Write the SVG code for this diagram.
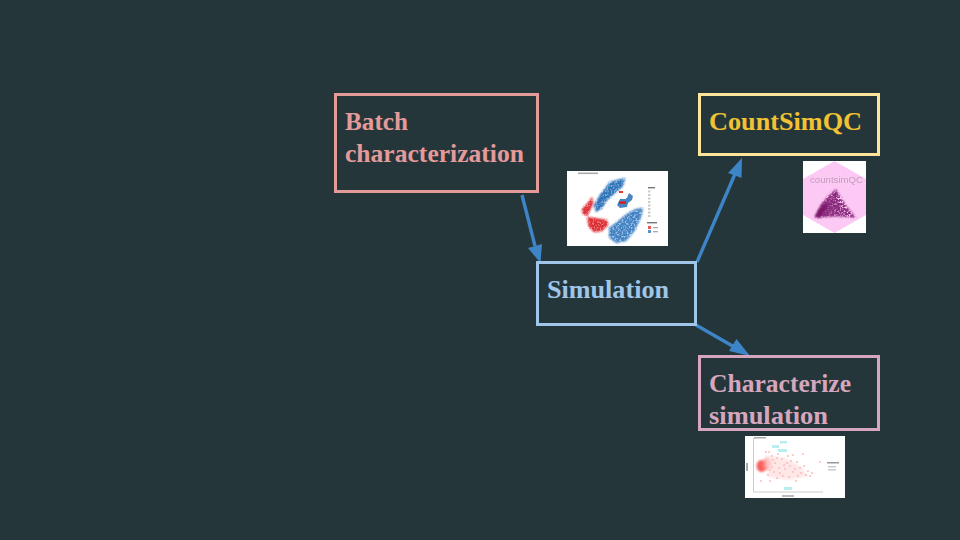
<svg xmlns="http://www.w3.org/2000/svg" width="960" height="540" viewBox="0 0 960 540">
<style>
.bg{fill:#25363b}
.box{fill:none;stroke-width:3}
.t{font-family:"Liberation Serif","Times New Roman",serif;font-weight:700;font-size:26px}
.conn{stroke:#3d85c6;stroke-width:3.4;fill:none}
.head{fill:#3d85c6}
.paper{fill:#fff}
</style>
<defs>
<filter id="speck" x="-15%" y="-15%" width="130%" height="130%">
<feGaussianBlur in="SourceGraphic" stdDeviation="1" result="s"/>
<feTurbulence type="fractalNoise" baseFrequency="0.55" numOctaves="2" seed="4" result="n"/>
<feColorMatrix in="n" type="matrix" values="0 0 0 0 0 0 0 0 0 0 0 0 0 0 0 0 0 0 5 -1.6" result="m"/>
<feComposite in="s" in2="m" operator="in"/>
<feGaussianBlur stdDeviation="0.75"/>
</filter>
<filter id="b1" x="-20%" y="-20%" width="140%" height="140%"><feGaussianBlur stdDeviation="1"/></filter>
<filter id="b2" x="-20%" y="-20%" width="140%" height="140%"><feGaussianBlur stdDeviation="0.5"/></filter>
<linearGradient id="mass" x1="0" y1="0" x2="1" y2="0"><stop offset="0" stop-color="#6f0e60"/><stop offset=".45" stop-color="#8a2a7c"/><stop offset="1" stop-color="#d88bd0"/></linearGradient>
</defs>
<rect class="bg" width="960" height="540"/>
<g id="connectors">
<line class="conn" x1="522" y1="195" x2="535" y2="246"/>
<polygon class="head" points="540.5,263 528,248 542,244"/>
<line class="conn" x1="697" y1="262" x2="735" y2="174"/>
<polygon class="head" points="742,158 741.5,178 728,173"/>
<line class="conn" x1="696" y1="325" x2="736" y2="348"/>
<polygon class="head" points="750,356 729,351 736.5,339"/>
</g>
<g id="batch">
<rect class="box" x="335.5" y="94.5" width="202" height="97" stroke="#e59a9a"/>
<text class="t" fill="#e59a9a" x="345" y="130" textLength="63" lengthAdjust="spacingAndGlyphs">Batch</text>
<text class="t" fill="#e59a9a" x="345" y="162" textLength="179" lengthAdjust="spacingAndGlyphs">characterization</text>
</g>
<g id="countsimqc">
<rect class="box" x="699.5" y="94.5" width="179" height="60" stroke="#ffe599"/>
<text class="t" fill="#f1c232" x="709" y="130" textLength="153" lengthAdjust="spacingAndGlyphs">CountSimQC</text>
</g>
<g id="simulation">
<rect class="box" x="537.5" y="262.5" width="158" height="62" stroke="#9fc5e8"/>
<text class="t" fill="#9fc5e8" x="547" y="298" textLength="122" lengthAdjust="spacingAndGlyphs">Simulation</text>
</g>
<g id="characterize">
<rect class="box" x="699.5" y="356.5" width="179" height="73" stroke="#d5a6bd"/>
<text class="t" fill="#d5a6bd" x="709" y="392" textLength="142" lengthAdjust="spacingAndGlyphs">Characterize</text>
<text class="t" fill="#d5a6bd" x="709" y="424" textLength="119" lengthAdjust="spacingAndGlyphs">simulation</text>
</g>
<g id="thumb-tsne">
<rect class="paper" x="567" y="171" width="101" height="75"/>
<g filter="url(#b1)" opacity=".75">
<path d="M610 182 L625 178 L623 186 L607 200 L602 208 L596 212 L594 205 L600 195Z" fill="#4d8ac8"/>
<path d="M643 208 L641 217 L635 230 L626 241 L616 243 L609 237 L609 228 L617 222 L628 213 L636 209Z" fill="#76a6d8"/>
<path d="M592 197 L593 204 L587 216 L583 214 L582 209 L588 203Z" fill="#e5383c"/>
<path d="M587 217 L594 218 L607 220 L608 225 L602 231 L594 232 L589 227Z" fill="#e5484c"/>
</g>
<g filter="url(#speck)" opacity=".8">
<path d="M610 182 L625 178 L623 186 L607 200 L602 208 L596 212 L594 205 L600 195Z" fill="#1f66b0"/>
<path d="M643 208 L641 217 L635 230 L626 241 L616 243 L609 237 L609 228 L617 222 L628 213 L636 209Z" fill="#2f74bb"/>
<path d="M592 197 L593 204 L587 216 L583 214 L582 209 L588 203Z" fill="#d81a20"/>
<path d="M587 217 L594 218 L607 220 L608 225 L602 231 L594 232 L589 227Z" fill="#d81a20"/>
</g>
<g filter="url(#b2)">
<path d="M629 193 L633 196 L632 200 L628 203 L627 207 L620 208 L617 205 L620 199 L627 198Z" fill="#2a70b8" opacity=".85"/>
<rect x="622" y="196" width="4" height="3" fill="#fff"/>
<rect x="578" y="172.5" width="20" height="1.6" fill="#aaa"/>
<rect x="619" y="191" width="4" height="2" fill="#e33"/>
<rect x="619" y="201.5" width="7" height="2.2" fill="#e11"/>
<rect x="648" y="187" width="7" height="1.4" fill="#777"/>
<g fill="#ccc"><rect x="648" y="190.5" width="2.5" height="2"/><rect x="648" y="194" width="2.5" height="2"/><rect x="648" y="197.5" width="2.5" height="2"/><rect x="648" y="201" width="2.5" height="2"/><rect x="648" y="204.5" width="2.5" height="2"/><rect x="648" y="208" width="2.5" height="2"/><rect x="648" y="211.5" width="2.5" height="2"/><rect x="648" y="215" width="2.5" height="2"/></g>
<rect x="647" y="222" width="10" height="1.4" fill="#777"/>
<rect x="648" y="226" width="3" height="3" fill="#e55"/>
<rect x="648" y="230" width="3" height="3" fill="#5a93cc"/>
<rect x="653" y="227" width="5" height="1.3" fill="#aaa"/>
<rect x="653" y="231" width="5" height="1.3" fill="#aaa"/>
</g>
</g>
<g id="thumb-countsimqc">
<rect class="paper" x="803" y="161" width="63" height="72"/>
<polygon points="834.5,161 866,179 866,215 834.5,233 803,215 803,179" fill="#fcc9f5"/>
<text x="810" y="183" font-family="'Liberation Sans',Arial,sans-serif" font-size="9.6" fill="#c59abf" textLength="53" filter="url(#b2)">countsimQC</text>
<g filter="url(#b1)" opacity=".7"><path d="M815 217 L820 207 L827 199 L833 196 L838 202 L842 210 L846 217 L830 216Z" fill="url(#mass)"/></g>
<g filter="url(#speck)"><path d="M815 218 L822 203 L829 195 L836 189 L841 198 L848 208 L856 218 L836 216Z" fill="#8a2a7c"/></g>
<g filter="url(#b1)"><path d="M815 217 L820 208 L826 203 L828 206 L823 213 L820 217Z" fill="#7a1868"/></g>
</g>
<g id="thumb-scatter">
<rect class="paper" x="745" y="436" width="100" height="62"/>
<g filter="url(#b2)">
<path d="M753.5 438 V492 H823" fill="none" stroke="#ccc" stroke-width="1"/>
<rect x="746" y="463" width="2" height="8" fill="#aaa"/>
<rect x="782" y="495" width="12" height="2" fill="#bbb"/>
<rect x="754" y="437" width="12" height="1.5" fill="#aaa"/>
<rect x="772" y="445" width="7" height="3" fill="#b8eef0"/>
<rect x="780" y="441" width="7" height="2.5" fill="#b8eef0"/>
<rect x="778" y="449" width="9" height="3" fill="#b8eef0"/>
<rect x="784" y="487" width="8" height="3" fill="#b8eef0"/>
<rect x="827" y="462" width="12" height="1.5" fill="#999"/>
<rect x="828" y="466" width="8" height="1.5" fill="#ccc"/>
<rect x="828" y="469" width="8" height="1.5" fill="#ccc"/>
</g>
<g filter="url(#b1)">
<ellipse cx="761.5" cy="466" rx="5" ry="6" fill="#f8605c"/>
<ellipse cx="767" cy="464" rx="4" ry="6.5" fill="#fa8f8b"/>
<path d="M765 455 L785 458 L800 466 L808 476 L790 480 L768 477Z" fill="#fdd" opacity=".7"/>
</g>
<g fill="#fbc2c0" filter="url(#b2)">
<circle cx="769" cy="452" r="1.1"/><circle cx="777" cy="458" r="1.1"/><circle cx="787" cy="463" r="1.1"/><circle cx="793" cy="455" r="1.1"/><circle cx="800" cy="468" r="1.1"/><circle cx="806" cy="475" r="1.1"/><circle cx="783" cy="476" r="1.1"/><circle cx="770" cy="481" r="1.1"/><circle cx="796" cy="481" r="1.1"/><circle cx="761" cy="481" r="1.1"/><circle cx="803" cy="454" r="1.1"/><circle cx="810" cy="476" r="1.1"/><circle cx="820" cy="462" r="1.1"/><circle cx="772" cy="456" r="1.1"/><circle cx="775" cy="463" r="1.1"/><circle cx="779" cy="468" r="1.1"/><circle cx="774" cy="472" r="1.1"/><circle cx="768" cy="475" r="1.1"/><circle cx="782" cy="459" r="1.1"/><circle cx="785" cy="469" r="1.1"/><circle cx="790" cy="466" r="1.1"/><circle cx="793" cy="472" r="1.1"/><circle cx="789" cy="477" r="1.1"/><circle cx="797" cy="462" r="1.1"/><circle cx="801" cy="473" r="1.1"/><circle cx="804" cy="466" r="1.1"/><circle cx="808" cy="471" r="1.1"/><circle cx="798" cy="476" r="1.1"/><circle cx="777" cy="478" r="1.1"/><circle cx="766" cy="452" r="1.1"/><circle cx="772" cy="467" r="1.1"/><circle cx="780" cy="473" r="1.1"/><circle cx="788" cy="456" r="1.1"/><circle cx="773" cy="460" r="1.1"/><circle cx="770" cy="470" r="1.1"/><circle cx="795" cy="469" r="1.1"/><circle cx="812" cy="473" r="1.1"/><circle cx="791" cy="461" r="1.1"/><circle cx="778" cy="454" r="1.1"/><circle cx="784" cy="465" r="1.1"/>
</g>
</g>
</svg>
